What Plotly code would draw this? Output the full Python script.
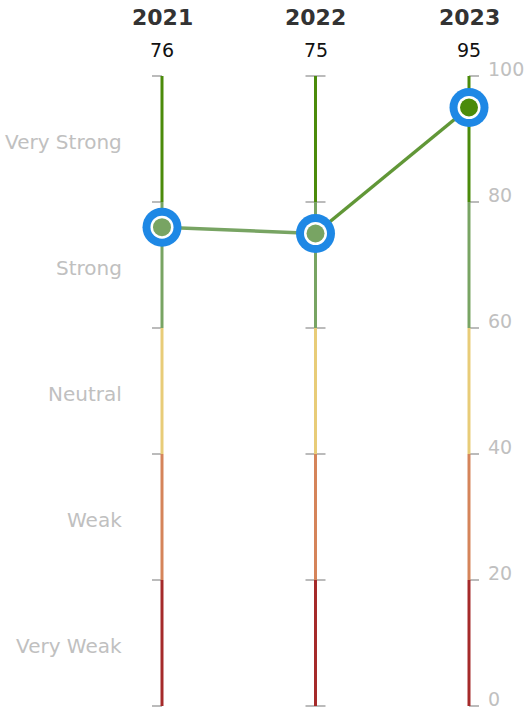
import plotly.graph_objects as go

years = ["2021", "2022", "2023"]
values = [76, 75, 95]
band_edges = [0, 20, 40, 60, 80, 100]
band_colors = ["#a52a2a", "#d5845a", "#e8cc78", "#78a463", "#4b8b0b"]
band_labels = ["Very Weak", "Weak", "Neutral", "Strong", "Very Strong"]
tick_values = [0, 20, 40, 60, 80, 100]

W, H = 528, 709
x_px = [162, 316, 469]
spacing = (x_px[2] - x_px[0]) / 2
y0_px, y100_px = 706, 76
ppu = (y0_px - y100_px) / 100.0

xr = [-x_px[0] / spacing, 2 + (W - x_px[2]) / spacing]
yr = [-(H - y0_px) / ppu, y0_px / ppu]


def zone_color(v):
    for i in range(len(band_colors)):
        if band_edges[i] <= v <= band_edges[i + 1]:
            return band_colors[i]
    return band_colors[-1]


def mix(c1, c2):
    a = [int(c1[i:i + 2], 16) for i in (1, 3, 5)]
    b = [int(c2[i:i + 2], 16) for i in (1, 3, 5)]
    return "#" + "".join("%02x" % ((p + q) // 2) for p, q in zip(a, b))


fig = go.Figure()

# vertical colored axes
for xi in range(len(years)):
    for bi in range(len(band_colors)):
        fig.add_trace(go.Scatter(
            x=[xi, xi], y=[band_edges[bi], band_edges[bi + 1]],
            mode="lines", line=dict(color=band_colors[bi], width=3),
            hoverinfo="skip", showlegend=False))

shapes = []
for xi in range(len(years)):
    if xi == 0:
        x0, x1 = -10, 0
    elif xi == len(years) - 1:
        x0, x1 = 0, 10
    else:
        x0, x1 = -10, 10
    for t in tick_values:
        shapes.append(dict(type="line", xref="x", yref="y", xsizemode="pixel",
                           xanchor=xi, x0=x0, x1=x1, y0=t, y1=t,
                           line=dict(color="#bbbbbb", width=2), layer="below"))

# connecting line
for i in range(len(values) - 1):
    c = mix(zone_color(values[i]), zone_color(values[i + 1]))
    fig.add_trace(go.Scatter(
        x=[i, i + 1], y=[values[i], values[i + 1]], mode="lines",
        line=dict(color=c, width=3.5), hoverinfo="skip", showlegend=False))

# markers
xs = list(range(len(values)))
fig.add_trace(go.Scatter(x=xs, y=values, mode="markers",
                         marker=dict(size=39, color="#1e88e5"),
                         hoverinfo="skip", showlegend=False))
fig.add_trace(go.Scatter(x=xs, y=values, mode="markers",
                         marker=dict(size=23, color="#ffffff"),
                         hoverinfo="skip", showlegend=False))
fig.add_trace(go.Scatter(x=xs, y=values, mode="markers",
                         marker=dict(size=18, color=[zone_color(v) for v in values]),
                         showlegend=False))

annotations = []
for xi, (yr_lbl, v) in enumerate(zip(years, values)):
    annotations.append(dict(x=xi, y=1 - 18 / H, xref="x", yref="paper",
                            text="<b>%s</b>" % yr_lbl, showarrow=False,
                            font=dict(size=22, color="#333333"),
                            xanchor="center", yanchor="middle"))
    annotations.append(dict(x=xi, y=1 - 50 / H, xref="x", yref="paper",
                            text=str(v), showarrow=False,
                            font=dict(size=19, color="#111111"),
                            xanchor="center", yanchor="middle"))

for t in tick_values:
    annotations.append(dict(x=len(years) - 1, y=t, xref="x", yref="y",
                            text=str(t), showarrow=False, xshift=18, yshift=7,
                            font=dict(size=19, color="#c0c0c0"),
                            xanchor="left", yanchor="middle", borderpad=0))

for bi, lbl in enumerate(band_labels):
    mid = (band_edges[bi] + band_edges[bi + 1]) / 2
    annotations.append(dict(x=0, y=mid, xref="x", yref="y",
                            text=lbl, showarrow=False, xshift=-38, yshift=-3,
                            font=dict(size=20, color="#c0c0c0"),
                            xanchor="right", yanchor="middle"))

fig.update_layout(
    width=W, height=H,
    margin=dict(l=0, r=0, t=0, b=0),
    paper_bgcolor="white", plot_bgcolor="white",
    font=dict(family="DejaVu Sans"),
    xaxis=dict(range=xr, visible=False, fixedrange=True),
    yaxis=dict(range=yr, visible=False, fixedrange=True),
    shapes=shapes, annotations=annotations,
    showlegend=False,
)

fig.write_html(
    "out.html",
    config={"displayModeBar": False, "staticPlot": True},
    post_script="document.body.style.margin='0';document.body.style.overflow='hidden';",
)
